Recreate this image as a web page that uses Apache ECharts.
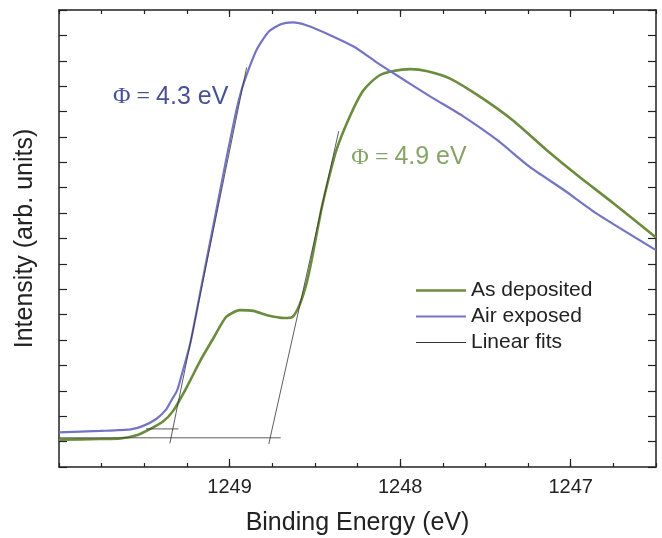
<!DOCTYPE html>
<html>
<head>
<meta charset="utf-8">
<script src="https://cdn.jsdelivr.net/npm/echarts@6/dist/echarts.min.js"></script>
<style>
  html, body { margin: 0; padding: 0; background: #fff; }
  #chart { width: 662px; height: 538px; }
</style>
</head>
<body>
<div id="chart"></div>
<script>
// as deposited (green)
const energyAs = [1250.00, 1249.76, 1249.64, 1249.54, 1249.47, 1249.39, 1249.33, 1249.25, 1249.17, 1249.09,
  1249.02, 1248.94, 1248.86, 1248.78, 1248.68, 1248.63, 1248.59, 1248.55, 1248.52, 1248.46,
  1248.41, 1248.37, 1248.31, 1248.24, 1248.20, 1248.12, 1248.04, 1247.94, 1247.84, 1247.71,
  1247.53, 1247.34, 1247.14, 1246.95, 1246.75, 1246.50];
const intensityAs = [1.08, 1.10, 1.12, 1.26, 1.48, 1.79, 2.22, 3.16, 4.21, 5.13,
  5.91, 6.18, 6.15, 5.98, 5.87, 5.92, 6.38, 7.20, 8.11, 10.2,
  11.6, 12.56, 13.58, 14.57, 14.96, 15.43, 15.60, 15.67, 15.59, 15.31,
  14.58, 13.66, 12.48, 11.43, 10.39, 9.04];

// air exposed (blue)
const energyAir = [1250.00, 1249.76, 1249.58, 1249.51, 1249.43, 1249.37, 1249.34, 1249.31, 1249.29, 1249.23,
  1249.17, 1249.13, 1249.07, 1249.02, 1248.96, 1248.93, 1248.90, 1248.84, 1248.77, 1248.70,
  1248.63, 1248.55, 1248.41, 1248.27, 1248.14, 1248.02, 1247.82, 1247.63, 1247.43, 1247.24,
  1247.04, 1246.85, 1246.50];
const intensityAir = [1.36, 1.42, 1.48, 1.61, 1.89, 2.28, 2.64, 2.98, 3.40, 4.88,
  6.94, 8.32, 10.38, 12.10, 14.05, 14.85, 15.45, 16.45, 17.15, 17.44,
  17.51, 17.40, 17.01, 16.55, 15.95, 15.43, 14.58, 13.81, 12.87, 11.82,
  10.91, 9.99, 8.54];

// linear fits: start / end of each segment
const fitE0 = [1249.35, 1249.49, 1248.77, 1250.00];
const fitI0 = [0.93, 1.50, 0.91, 1.15];
const fitE1 = [1248.90, 1249.30, 1248.36, 1248.70];
const fitI1 = [15.74, 1.50, 13.23, 1.15];

// work function labels
const phiText = ['4.3 eV', '4.9 eV'];
const phiE = [1249.345, 1247.948];
const phiI = [14.57, 12.20];
const phiColor = ['#1c267a', '#6a8c40'];

const xTicks = [1247, 1248, 1249];

const font = "'Liberation Sans', Arial, sans-serif";
const green = '#6b8c3c';
const blue = '#7474c4';

function zip(a, b) {
  return a.map((v, i) => [v, b[i]]);
}

let fitData = [];
for (let i = 0; i < fitE0.length; i++) {
  fitData.push([fitE0[i], fitI0[i]], [fitE1[i], fitI1[i]]);
  if (i < fitE0.length - 1) fitData.push('-');
}

function xAx(pos, len, custom, line) {
  let tick = { show: true, inside: true, length: len, lineStyle: { color: '#222', width: 1.2 } };
  if (custom) tick.customValues = xTicks;
  return {
    type: 'value', position: pos, min: 1246.5, max: 1250, interval: 0.25, inverse: true,
    axisLine: { show: line, onZero: false, lineStyle: { color: '#222', width: 1.5 } },
    axisTick: tick,
    axisLabel: { show: false },
    splitLine: { show: false }
  };
}

function yAx(pos) {
  return {
    type: 'value', position: pos, min: 0, max: 18, interval: 1,
    axisLine: { show: true, onZero: false, lineStyle: { color: '#222', width: 1.5 } },
    axisTick: { show: true, inside: true, length: 8, lineStyle: { color: '#222', width: 1.2 } },
    axisLabel: { show: false },
    splitLine: { show: false }
  };
}

let chart = echarts.init(document.getElementById('chart'), null, { renderer: 'canvas' });

let xBottom = xAx('bottom', 4, false, true);
xBottom.axisLabel = {
  show: true, fontSize: 20, color: '#222', fontFamily: font, margin: 10,
  formatter: v => (xTicks.indexOf(v) >= 0 ? String(v) : '')
};
xBottom.name = 'Binding Energy (eV)';
xBottom.nameLocation = 'middle';
xBottom.nameGap = 44;
xBottom.nameTextStyle = { fontSize: 25, color: '#222', fontFamily: font };

let yLeft = yAx('left');
yLeft.name = 'Intensity (arb. units)';
yLeft.nameLocation = 'middle';
yLeft.nameGap = 21;
yLeft.nameTextStyle = { fontSize: 25, color: '#222', fontFamily: font };

chart.setOption({
  animation: false,
  grid: { left: 59, right: 6, top: 10, bottom: 71, outerBoundsMode: 'none', containLabel: false },
  xAxis: [xBottom, xAx('bottom', 8, true, false), xAx('top', 4, false, true), xAx('top', 7, true, false)],
  yAxis: [yLeft, yAx('right')],
  legend: {
    data: [
      { name: 'As deposited', icon: 'path://M0,0h50v2.6h-50z' },
      { name: 'Air exposed', icon: 'path://M0,0h50v2.2h-50z' },
      { name: 'Linear fits', icon: 'path://M0,0h50v0.9h-50z' }
    ],
    orient: 'vertical', left: 416, top: 280, padding: 0,
    itemWidth: 50, itemHeight: 14, itemGap: 5,
    textStyle: { fontSize: 21, color: '#222', fontFamily: font }
  },
  series: [
    {
      name: 'As deposited', type: 'line', data: zip(energyAs, intensityAs),
      symbol: 'none', smooth: 0.2, color: green,
      lineStyle: { color: green, width: 2.6 }
    },
    {
      name: 'Air exposed', type: 'line', data: zip(energyAir, intensityAir),
      symbol: 'none', smooth: 0.2, color: blue,
      lineStyle: { color: blue, width: 2.2 }
    },
    {
      name: 'Linear fits', type: 'line', data: fitData,
      symbol: 'none', connectNulls: false, color: '#333',
      lineStyle: { color: '#333', width: 0.8 }
    },
    {
      type: 'scatter', silent: true, symbolSize: 0,
      data: phiText.map((t, i) => ({
        value: [phiE[i], phiI[i]],
        label: {
          show: true, position: 'inside',
          formatter: '{p|Φ}{e| = }{t|' + t + '}',
          rich: {
            p: { fontFamily: "'Liberation Serif', serif", fontSize: 24, color: phiColor[i] },
            e: { fontFamily: "'Liberation Serif', serif", fontSize: 24, color: phiColor[i] },
            t: { fontFamily: font, fontSize: 25, color: phiColor[i] }
          }
        }
      }))
    }
  ]
});
</script>
</body>
</html>
